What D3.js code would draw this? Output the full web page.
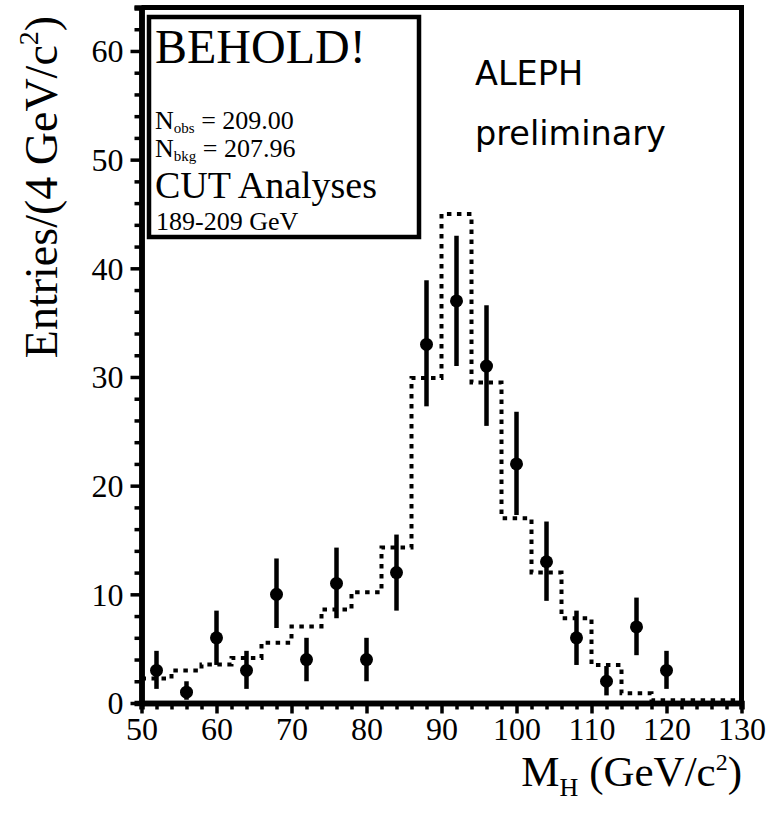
<!DOCTYPE html>
<html>
<head>
<meta charset="utf-8">
<script src="https://d3js.org/d3.v7.min.js"></script>
<style>
    body { margin: 0; background: white; }
    text { font-family: "Liberation Serif", "Times New Roman", serif; fill: black; }
    .note { font-family: "Comic Sans MS", "DejaVu Sans", sans-serif; font-size: 33.5px; }
</style>
</head>
<body>
<script>
    // bins are 4 GeV wide, data points sit at bin centres
    var binCentres = [52, 56, 60, 64, 68, 72, 76, 80, 84, 88, 92, 96, 100, 104, 108, 112, 116, 120];
    var observed   = [3, 1, 6, 3, 10, 4, 11, 4, 12, 33, 37, 31, 22, 13, 6, 2, 7, 3];
    var errLow     = [1.3, 0.3, 3.5, 1.3, 6.9, 2.0, 7.8, 2.0, 8.5, 27.3, 31.0, 25.5, 17.3, 9.4, 3.5, 0.7, 4.4, 1.3];
    var errHigh    = [4.8, 2.0, 8.5, 4.8, 13.3, 6.0, 14.3, 6.0, 15.5, 38.9, 43.0, 36.6, 26.8, 16.7, 8.5, 3.4, 9.7, 4.8];

    // expected background, one value per 4 GeV bin starting at 50
    var bkgEdges  = [50, 54, 58, 62, 66, 70, 74, 78, 82, 86, 90, 94, 98, 102, 106, 110, 114, 118, 122, 126];
    var bkgValues = [2.25, 3.0, 3.55, 4.15, 5.55, 7.05, 8.6, 10.2, 14.3, 29.9, 45.0, 29.5, 17.0, 12.0, 7.8, 3.5, 0.9, 0.25, 0.25, 0.25];

    var xMajor = [50, 60, 70, 80, 90, 100, 110, 120, 130];
    var yMajor = [0, 10, 20, 30, 40, 50, 60];

    var W = 770, H = 815;
    var svg = d3.select("body").append("svg").attr("width", W).attr("height", H);

    var x = d3.scaleLinear().domain([50, 130]).range([141.5, 741.5]);
    var y = d3.scaleLinear().domain([0, 64]).range([703, 7.5]);

    // minor ticks every 2 units
    var xMinor = d3.range(50, 131, 2).filter(function (v) { return v % 10 != 0; });
    var yMinor = d3.range(0, 65, 2).filter(function (v) { return v % 10 != 0; });

    var gxMinor = svg.append("g").attr("transform", "translate(0," + y(0) + ")")
        .call(d3.axisBottom(x).tickValues(xMinor).tickSize(6.5).tickFormat(""));
    var gyMinor = svg.append("g").attr("transform", "translate(" + x(50) + ",0)")
        .call(d3.axisLeft(y).tickValues(yMinor).tickSize(7).tickFormat(""));

    var gx = svg.append("g").attr("transform", "translate(0," + y(0) + ")")
        .call(d3.axisBottom(x).tickValues(xMajor).tickSize(10.5).tickPadding(4).tickSizeOuter(0));
    var gy = svg.append("g").attr("transform", "translate(" + x(50) + ",0)")
        .call(d3.axisLeft(y).tickValues(yMajor).tickSize(11).tickPadding(7).tickSizeOuter(0));

    [gxMinor, gyMinor, gx, gy].forEach(function (g) {
        g.selectAll(".tick line").attr("stroke", "black").attr("stroke-width", 3.5);
        g.select(".domain").attr("stroke", "black").attr("stroke-width", 5.5);
        g.selectAll("text").attr("font-family", "Liberation Serif, serif").attr("font-size", 32).attr("fill", "black");
    });
    gy.selectAll(".tick text").attr("dy", "0.34em");

    // top and right frame
    svg.append("path")
        .attr("d", "M" + x(50) + "," + y(64) + "H" + x(130) + "V" + y(0))
        .attr("fill", "none").attr("stroke", "black").attr("stroke-width", 5);

    // background histogram, dotted
    var bkgPts = bkgEdges.map(function (e, i) { return [e, bkgValues[i]]; });
    bkgPts.push([130, bkgValues[bkgValues.length - 1]]);
    var stepLine = d3.line()
        .x(function (d) { return x(d[0]); })
        .y(function (d) { return y(d[1]); })
        .curve(d3.curveStepAfter);
    svg.append("path")
        .attr("d", stepLine(bkgPts))
        .attr("fill", "none").attr("stroke", "black")
        .attr("stroke-width", 4).attr("stroke-dasharray", "4.5,5.5");

    // data points with error bars
    var pts = svg.append("g");
    pts.selectAll("line").data(binCentres).enter().append("line")
        .attr("x1", function (d) { return x(d); })
        .attr("x2", function (d) { return x(d); })
        .attr("y1", function (d, i) { return y(errLow[i]); })
        .attr("y2", function (d, i) { return y(errHigh[i]); })
        .attr("stroke", "black").attr("stroke-width", 4.5);
    pts.selectAll("circle").data(binCentres).enter().append("circle")
        .attr("cx", function (d) { return x(d); })
        .attr("cy", function (d, i) { return y(observed[i]); })
        .attr("r", 6.5).attr("fill", "black");

    // info box
    svg.append("rect").attr("x", 149).attr("y", 17).attr("width", 270).attr("height", 220)
        .attr("fill", "white").attr("stroke", "black").attr("stroke-width", 4.5);
    svg.append("text").attr("x", 155).attr("y", 63).attr("font-size", 48).text("BEHOLD!");

    var nObs = svg.append("text").attr("x", 155).attr("y", 129).attr("font-size", 26);
    nObs.append("tspan").text("N");
    nObs.append("tspan").attr("font-size", 15).attr("dy", 4).text("obs");
    nObs.append("tspan").attr("dy", -4).text(" = 209.00");

    var nBkg = svg.append("text").attr("x", 155).attr("y", 157).attr("font-size", 26);
    nBkg.append("tspan").text("N");
    nBkg.append("tspan").attr("font-size", 15).attr("dy", 4).text("bkg");
    nBkg.append("tspan").attr("dy", -4).text(" = 207.96");

    svg.append("text").attr("x", 155).attr("y", 198).attr("font-size", 38).text("CUT Analyses");
    svg.append("text").attr("x", 156).attr("y", 230).attr("font-size", 26).text("189-209 GeV");

    svg.append("text").attr("class", "note").attr("x", 475).attr("y", 85).text("ALEPH");
    svg.append("text").attr("class", "note").attr("x", 475).attr("y", 145).text("preliminary");

    // axis titles
    var xt = svg.append("text").attr("x", 742).attr("y", 786).attr("text-anchor", "end").attr("font-size", 43);
    xt.append("tspan").text("M");
    xt.append("tspan").attr("font-size", 26).attr("dy", 10).text("H");
    xt.append("tspan").attr("dy", -10).text(" (GeV/c");
    xt.append("tspan").attr("font-size", 24).attr("dy", -16).text("2");
    xt.append("tspan").attr("dy", 16).text(")");

    var yt = svg.append("text").attr("transform", "translate(57,187) rotate(-90)")
        .attr("text-anchor", "middle").attr("font-size", 46);
    yt.append("tspan").text("Entries/(4 GeV/c");
    yt.append("tspan").attr("font-size", 28).attr("dy", -19).text("2");
    yt.append("tspan").attr("dy", 19).text(")");
</script>
</body>
</html>
